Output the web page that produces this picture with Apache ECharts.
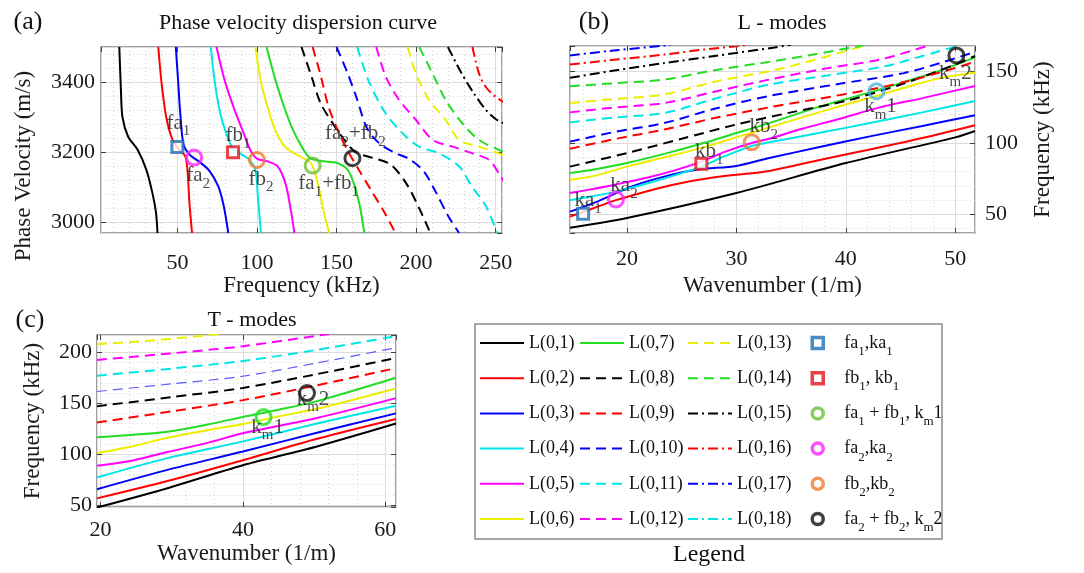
<!DOCTYPE html>
<html>
<head>
<meta charset="utf-8">
<script src="https://cdn.jsdelivr.net/npm/echarts/dist/echarts.min.js"></script>
<style>
html,body{margin:0;padding:0;background:#fff;}
#chart{width:1084px;height:573px;}
</style>
</head>
<body>
<div id="chart"></div>
<script>
// (a) phase velocity dispersion: [frequency kHz, phase velocity m/s]
var aL01 = [[13.5,3500],[14.5,3380],[15.5,3300],[19,3245],[25,3207],[30.5,3150],[34,3090],[36.5,3030],[37.5,2970]];
var aL02 = [[38,3500],[40,3400],[43,3300],[47,3235],[51,3208],[55,3188],[56.5,3140],[57.5,3060],[59.2,2970]];
var aL03 = [[49,3500],[50.5,3400],[52,3300],[54,3220],[58,3192],[64,3172],[70,3148],[75.5,3105],[79,3050],[82,2970]];
var aL04 = [[71,3500],[73.5,3400],[77,3310],[81,3250],[85,3210],[90,3195],[95,3180],[99,3150],[100.5,3080],[102.5,2970]];
var aL05 = [[74.6,3500],[80,3400],[86,3320],[92,3250],[96,3205],[100,3182],[106,3175],[113,3160],[118,3110],[121.5,3030],[123.5,2970]];
var aL06 = [[99,3500],[102.5,3400],[106,3340],[110,3280],[114,3240],[119,3210],[127,3188],[134,3168],[138,3115],[142,3030],[145.5,2970]];
var aL07 = [[106,3500],[112,3400],[117,3330],[122,3270],[127,3225],[133,3185],[140,3175],[150,3170],[157,3150],[161,3110],[164.5,3050],[167.5,2970]];
var aL08 = [[128,3500],[134,3420],[140,3340],[148,3280],[155,3235],[162,3200],[172,3185],[184,3165],[194,3110],[202,3040],[209,2970]];
var aL09 = [[135,3500],[140,3420],[145,3330],[151,3260],[157,3205],[164,3150],[172,3090],[180,3030],[187,2970]];
var aL10 = [[150,3500],[157,3425],[163,3350],[169,3270],[177,3225],[186,3200],[196,3180],[205,3145],[212,3090],[220,3020],[227,2970]];
var aL11 = [[163,3500],[170.5,3400],[181,3310],[191.5,3254],[202,3216],[214.5,3197],[227,3160],[235,3103],[244,3046],[251,2970]];
var aL12 = [[175,3500],[181,3415],[189.5,3348],[200,3292],[210.5,3235],[223,3216],[235.5,3197],[246,3178],[252,3140],[256,3110]];
var aL13 = [[194.7,3500],[200,3424],[208.3,3348],[218.7,3292],[227,3235],[239.6,3216],[252,3197],[256,3190]];
var aL14 = [[202,3500],[210.4,3424],[218.7,3348],[229.2,3282],[239.6,3235],[252,3207],[256,3200]];
var aL15 = [[220,3500],[228,3430],[236,3370],[244,3320],[250,3295],[256,3280]];
var aL16 = [[235.4,3500],[239.6,3424],[243.8,3386],[250,3358],[256,3340]];

// (b) L-modes: [wavenumber 1/m, frequency kHz]
var bL01 = [[14.8,40.7],[20,47.5],[30,65],[40,86],[50,104],[51.8,108.5]];
var bL02 = [[14.8,48.5],[17,54.5],[19,60],[21.5,65.5],[24,70.5],[28,76],[33,80.5],[37.5,88],[42.2,95.5],[47,103.5],[51.8,112.5]];
var bL03 = [[14.8,52],[17.3,59],[20.4,69.5],[23.4,76.5],[26.5,81.5],[30,84],[33,89.5],[37.5,97],[42.2,104.7],[47,112],[51.8,119.5]];
var bL04 = [[14.8,60],[17,63],[19,66],[22,72],[24.2,77],[26.8,83.5],[29,91],[31.4,98],[33,100.5],[37.5,107],[42.2,114],[47,121.5],[51.8,129.5]];
var bL05 = [[14.8,65],[17,68],[19,71],[22,76],[24.2,80.5],[26.8,87],[29,94],[31.4,100],[33,103],[36,110],[39.2,116.5],[43.1,125],[47,131.5],[51.8,140]];
var bL06 = [[14.8,74.2],[17,77],[20,83.5],[24.2,91.5],[27,97],[30,104],[33,111],[36,118],[40,127],[42.8,133],[45.9,140],[48.6,145.5],[51.8,149.5]];
var bL07 = [[14.8,79],[17,81.5],[20,86],[24.2,94],[27,100],[30,107],[33,114],[37.6,125.5],[42.2,135.5],[45,142],[48.3,150],[51.8,160]];
var bL08 = [[14.8,83.5],[20,93],[25,103],[30,113],[35,121.5],[40,129.5],[45,141],[50,155],[51.8,161]];
var bL09 = [[14.8,96],[19,103],[23.4,109.5],[28,117.5],[33,125],[37.5,131],[42.2,137.5],[46,144],[49.5,151.5],[51.8,157]];
var bL10 = [[14.8,101],[19,108],[23.4,114],[28,124],[33,133],[39,141],[45.3,149],[49,157],[52,164.5]];
var bL11 = [[14.8,114.5],[19,118],[23.4,121],[28,131],[33,141],[38,147],[43.7,154],[47,161],[50.2,168],[51,170]];
var bL12 = [[14.8,121.5],[19,125],[23.4,128],[28,136],[33,144.5],[38,152],[43.1,158.5],[47.4,168],[48,170]];
var bL13 = [[14.8,128],[19,131],[23.4,134],[28,143],[33.4,151],[37,158],[41,166.7],[42,169]];
var bL14 = [[14.8,139.8],[19,142],[23.4,144.5],[28,151],[33.4,157.4],[37,162],[41.3,168],[42,169]];
var bL15 = [[14.8,145.7],[19,151],[23.4,156],[28,161],[33.5,167],[35,169]];
var bL16 = [[14.8,155],[19,158.5],[23.4,162],[27,165.5],[30.2,168],[31,169]];
var bL17 = [[14.8,161.4],[19,165],[23.4,168.3],[24,169]];
var bL18 = [];

// (c) T-modes: [wavenumber 1/m, frequency kHz]
var cL01 = [[19.5,47.5],[29.4,66.5],[40,89],[50.4,107.5],[61.5,130]];
var cL02 = [[19.5,56.5],[29.4,73.5],[40,94],[50.4,115],[61.5,134.5]];
var cL03 = [[19.5,65.5],[29.4,84.5],[40,102.5],[50.4,121],[61.5,140]];
var cL04 = [[19.5,77],[29.4,96],[40,112.5],[50.4,130],[61.5,147.5]];
var cL05 = [[19.5,88.5],[24.7,94],[29.4,102],[35,111],[40,120.5],[50.4,135.5],[61.5,155]];
var cL06 = [[19.5,101],[24.7,108],[29.4,116],[35,123.5],[40,129.5],[45,137],[50.4,144.5],[61.5,164.5]];
var cL07 = [[19.5,116.5],[24.7,119],[29.4,122],[35,129],[40,136.5],[45,143.5],[50.4,152],[61.5,175]];
var cL08 = [[19.5,147],[30,156],[40,165],[50,178],[61.5,194.5]];
var cL09 = [[19.5,131],[30,142],[40,153],[50,167],[61.5,184.5]];
var cL10 = [[19.5,161.5],[30,169],[40,176.5],[50,189],[61.5,204.5]];
var cL11 = [[19.5,177],[30,184],[40,191.5],[50,202],[61.5,216]];
var cL12 = [[19.5,192.5],[30,199],[40,206],[51.6,217.5],[53,219]];
var cL13 = [[19.5,208],[28,212],[35.9,217.5],[37,218.5]];

var modeNames = ['L(0,1)','L(0,2)','L(0,3)','L(0,4)','L(0,5)','L(0,6)','L(0,7)','L(0,8)','L(0,9)',
  'L(0,10)','L(0,11)','L(0,12)','L(0,13)','L(0,14)','L(0,15)','L(0,16)','L(0,17)','L(0,18)'];

// marker points, order: fa1/ka1, fb1/kb1, fa1+fb1/km1, fa2/ka2, fb2/kb2, fa2+fb2/km2
var markerNames = ['fa1,ka1','fb1,kb1','fa1+fb1,km1','fa2,ka2','fb2,kb2','fa2+fb2,km2'];
var aMarks = [[50,3215],[85,3200],[135,3162],[60.5,3185],[100,3178],[160,3183]];
var bMarks = [[16,50.5],[26.8,85.5],[42.8,136.3],[19,60.5],[31.4,100.5],[50.1,161.4]];
var cMarks = [null,null,[42.9,136.4],null,null,[49,160]];
var aMarkText = ['{n|fa}{s|1}','{n|fb}{s|1}','{n|fa}{s|1}{n|+fb}{s|1}','{n|fa}{s|2}','{n|fb}{s|2}','{n|fa}{s|2}{n|+fb}{s|2}'];
var bMarkText = ['{n|ka}{s|1}','{n|kb}{s|1}','{n|k}{s|m}{n|1}','{n|ka}{s|2}','{n|kb}{s|2}','{n|k}{s|m}{n|2}'];
var cMarkText = [null,null,'{n|k}{s|m}{n|1}',null,null,'{n|k}{s|m}{n|2}'];
var legendMarkText = {
  'fa1,ka1': '{n|fa}{s|1}{n|,ka}{s|1}',
  'fb1,kb1': '{n|fb}{s|1}{n|, kb}{s|1}',
  'fa1+fb1,km1': '{n|fa}{s|1}{n| + fb}{s|1}{n|, k}{s|m}{n|1}',
  'fa2,ka2': '{n|fa}{s|2}{n|,ka}{s|2}',
  'fb2,kb2': '{n|fb}{s|2}{n|,kb}{s|2}',
  'fa2+fb2,km2': '{n|fa}{s|2}{n| + fb}{s|2}{n|, k}{s|m}{n|2}'
};

// styles
var serif = '"Liberation Serif", "Times New Roman", serif';
var modeColor = ['#000000','#ff0000','#0000ff','#00e6e6','#ff00ff','#eded00','#22dd22',
  '#000000','#ff0000','#0000ff','#00e6e6','#ff00ff','#eded00','#22dd22',
  '#000000','#ff0000','#0000ff','#00e6e6'];
var modeDash = ['solid','solid','solid','solid','solid','solid','solid',
  [10,6],[10,6],[10,6],[10,6],[10,6],[10,6],[10,6],
  [10,4,2,4],[10,4,2,4],[10,4,2,4],[10,4,2,4]];
var markerSymbol = ['rect','rect','circle','circle','circle','circle'];
var markerColor = ['#1f6fb5','#e3121b','#6cbf3a','#ff22ff','#f07a30','#111111'];
var markerFill = ['#ffffff','#ffffff','rgba(255,255,255,0)','rgba(255,255,255,0)','rgba(255,255,255,0)','rgba(255,255,255,0)'];
var markerSize = [11,11,15,15,15,15];
var bMarkColor = [null,null,'#4db3e6',null,null,null];
var cMarkColor = [null,null,'#22e022',null,null,null];
var aMarkOffset = [[1,-24],[5,-17],[16,18],[4,18],[4,19],[3,-25]];
var bMarkOffset = [[5,-13],[8,-12],[4,15],[8,-14],[12,-16],[-1,18]];
var cMarkOffset = [null,null,[4,10],null,null,[6,6]];

var richLabel = {
  n: {fontFamily: serif, fontSize: 21, color: '#1a1a1a', lineHeight: 32},
  s: {fontFamily: serif, fontSize: 15, color: '#1a1a1a', lineHeight: 15, verticalAlign: 'bottom'}
};

function modeLine(i, data, axis, width, color) {
  var c = color || modeColor[i];
  return {
    name: modeNames[i], type: 'line', xAxisIndex: axis, yAxisIndex: axis,
    data: data, symbol: 'none', smooth: 0.3, silent: true, z: 3,
    lineStyle: {color: c, width: width || 2, type: modeDash[i]},
    itemStyle: {color: c},
    emphasis: {disabled: true}
  };
}

function markerSeries(j, pt, axis, text, offset, color) {
  var item = {
    value: pt,
    label: {show: true, position: 'inside', offset: offset, formatter: text, rich: richLabel}
  };
  if (color) item.itemStyle = {borderColor: color};
  return {
    name: markerNames[j], type: 'scatter', xAxisIndex: axis, yAxisIndex: axis,
    symbol: markerSymbol[j], symbolSize: markerSize[j], silent: true, z: 10,
    itemStyle: {color: markerFill[j], borderColor: markerColor[j], borderWidth: 3},
    emphasis: {disabled: true},
    data: [item]
  };
}

var series = [];
var aModes = [aL01,aL02,aL03,aL04,aL05,aL06,aL07,aL08,aL09,aL10,aL11,aL12,aL13,aL14,aL15,aL16];
var bModes = [bL01,bL02,bL03,bL04,bL05,bL06,bL07,bL08,bL09,bL10,bL11,bL12,bL13,bL14,bL15,bL16,bL17,bL18];
var cModes = [cL01,cL02,cL03,cL04,cL05,cL06,cL07,cL08,cL09,cL10,cL11,cL12,cL13];
aModes.forEach(function (d, i) { series.push(modeLine(i, d, 0)); });
bModes.forEach(function (d, i) { series.push(modeLine(i, d, 1)); });
cModes.forEach(function (d, i) {
  if (i === 9) series.push(modeLine(i, d, 2, 1.2, '#5a5aff'));
  else series.push(modeLine(i, d, 2));
});
for (var j = 0; j < 6; j++) {
  series.push(markerSeries(j, aMarks[j], 0, aMarkText[j], aMarkOffset[j]));
  series.push(markerSeries(j, bMarks[j], 1, bMarkText[j], bMarkOffset[j], bMarkColor[j]));
  if (cMarks[j]) series.push(markerSeries(j, cMarks[j], 2, cMarkText[j], cMarkOffset[j], cMarkColor[j]));
}

var tickStyle = {show: true, inside: true, length: 5, lineStyle: {color: '#404040', width: 1}};
function baseAxis(grid, min, max, split, pos) {
  return {
    type: 'value', gridIndex: grid, min: min, max: max, splitNumber: split, position: pos,
    axisLine: {show: false}, axisTick: tickStyle,
    minorTick: {show: false, splitNumber: 5}
  };
}
function mainAxis(grid, min, max, split, pos, name, nameGap, margin, namePad) {
  var ax = baseAxis(grid, min, max, split, pos);
  ax.axisLabel = {fontFamily: serif, fontSize: 22, color: '#1a1a1a', margin: margin,
    showMinLabel: false, showMaxLabel: false,
    formatter: function (v) { return String(v); }};
  ax.splitLine = {show: true, lineStyle: {color: '#dcdcdc', width: 1}};
  ax.minorSplitLine = {show: true, lineStyle: {color: '#d4d4d4', width: 1, type: [1, 3]}};
  ax.name = name;
  ax.nameLocation = 'middle';
  ax.nameGap = nameGap;
  ax.nameTextStyle = {fontFamily: serif, fontSize: 23, color: '#1a1a1a', padding: namePad || 0};
  return ax;
}
function mirrorAxis(grid, min, max, split, pos) {
  var ax = baseAxis(grid, min, max, split, pos);
  ax.axisLabel = {show: false};
  ax.splitLine = {show: false};
  return ax;
}

var gridBase = {show: true, borderColor: '#808080', borderWidth: 1.5, backgroundColor: '#fff', containLabel: false, outerBoundsMode: 'none'};
function gridAt(l, t, w, h) {
  return Object.assign({left: l, top: t, width: w, height: h}, gridBase);
}

function legendCol(left, names) {
  return {
    orient: 'vertical', left: left, top: 328, padding: 0, itemGap: 5.2,
    itemWidth: 44, itemHeight: 14, selectedMode: false, data: names,
    itemStyle: {opacity: 0},
    lineStyle: {width: 2},
    textStyle: {fontFamily: serif, fontSize: 18, color: '#111', lineHeight: 30}
  };
}

var texts = [
  ['(a)', 28, 22, 26], ['Phase velocity dispersion curve', 298, 23, 22],
  ['(b)', 594, 22, 26], ['L - modes', 782, 23, 22],
  ['(c)', 30, 320, 26], ['T - modes', 252, 320, 22],
  ['Legend', 709, 555, 24]
];
var graphics = [{
  type: 'rect', silent: true, shape: {x: 475, y: 324, width: 467, height: 215},
  style: {fill: 'none', stroke: '#8a8a8a', lineWidth: 1.5}
}];
texts.forEach(function (t) {
  graphics.push({
    type: 'text', silent: true, x: t[1], y: t[2],
    style: {text: t[0], font: t[3] + 'px ' + serif, fill: '#111',
      align: 'center', verticalAlign: 'middle', textAlign: 'center', textVerticalAlign: 'middle'}
  });
});

var chart = echarts.init(document.getElementById('chart'));
chart.setOption({
  backgroundColor: '#fff',
  animation: false,
  grid: [gridAt(101, 47, 401, 186), gridAt(570, 46, 405, 187), gridAt(97, 335, 299, 172)],
  xAxis: [
    mainAxis(0, 2, 254, 5, 'bottom', 'Frequency (kHz)', 40, 19),
    mainAxis(1, 14.8, 51.8, 4, 'bottom', 'Wavenumber (1/m)', 41, 15),
    mainAxis(2, 19.5, 61.5, 2, 'bottom', 'Wavenumber (1/m)', 35, 12),
    mirrorAxis(0, 2, 254, 5, 'top'),
    mirrorAxis(1, 14.8, 51.8, 4, 'top'),
    mirrorAxis(2, 19.5, 61.5, 2, 'top')
  ],
  yAxis: [
    mainAxis(0, 2970, 3500, 3, 'left', 'Phase Velocity (m/s)', 66, 6, [0, 52, 0, 0]),
    mainAxis(1, 37, 168, 3, 'right', 'Frequency (kHz)', 56, 10),
    mainAxis(2, 48, 217, 4, 'left', 'Frequency (kHz)', 53, 5),
    mirrorAxis(0, 2970, 3500, 3, 'right'),
    mirrorAxis(1, 37, 168, 3, 'left'),
    mirrorAxis(2, 48, 217, 4, 'right')
  ],
  legend: [
    legendCol(479, modeNames.slice(0, 6)),
    legendCol(579, modeNames.slice(6, 12)),
    legendCol(687, modeNames.slice(12, 18)),
    {
      orient: 'vertical', left: 810.5, top: 328, padding: 0, itemGap: 5.2,
      itemWidth: 11, itemHeight: 11, selectedMode: false, data: markerNames,
      itemStyle: {borderWidth: 3.5},
      formatter: function (name) { return legendMarkText[name]; },
      textStyle: {
        fontFamily: serif, fontSize: 18, color: '#111', lineHeight: 30, padding: [0, 0, 0, 16],
        rich: {
          n: {fontFamily: serif, fontSize: 18, color: '#111', lineHeight: 30},
          s: {fontFamily: serif, fontSize: 13, color: '#111', lineHeight: 13, verticalAlign: 'bottom'}
        }
      }
    }
  ],
  graphic: graphics,
  series: series
});
</script>
</body>
</html>
